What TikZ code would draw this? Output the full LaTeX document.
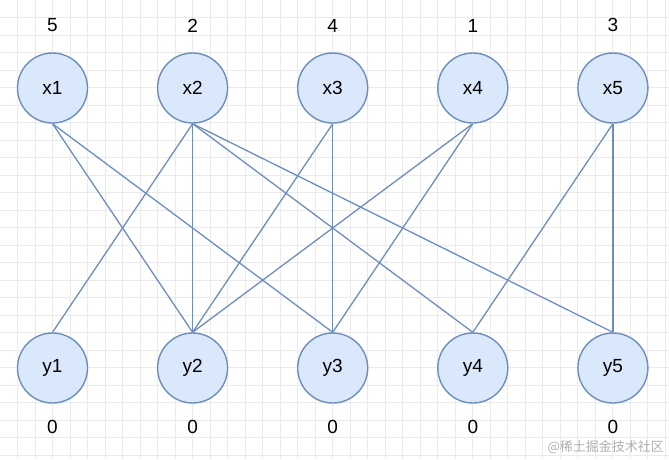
\documentclass[tikz,border=0pt]{standalone}
\usepackage{fontspec}
\setmainfont{Liberation Sans}
\newfontfamily\cjkfont{Noto Sans CJK SC}
\usetikzlibrary{positioning}
\definecolor{nodeblue}{RGB}{108,142,191}
\definecolor{nodefill}{RGB}{218,232,252}
\definecolor{gridgray}{RGB}{234,234,234}
\definecolor{markgray}{RGB}{175,175,175}

\begin{document}
\begin{tikzpicture}[x=1pt, y=-1pt, font=\fontsize{19}{22}\selectfont, node distance=68.7pt,
vertex/.style={circle, draw=nodeblue, fill=nodefill, line width=1.4pt, minimum size=70pt, inner sep=0pt},
edge/.style={nodeblue, line width=1.3pt},
num/.style={inner sep=0pt}]
\useasboundingbox (0,0) rectangle (669,459);
% background grid
\foreach \i in {1,...,38} \draw[gridgray, line width=0.7pt] (\i*17.5,0) -- (\i*17.5,459);
\foreach \j in {1,...,26} \draw[gridgray, line width=0.7pt] (0,\j*17.5) -- (669,\j*17.5);
% top row
\node[vertex] (x1) at (52.5,88) {x1};
\node[vertex, right=of x1] (x2) {x2};
\node[vertex, right=of x2] (x3) {x3};
\node[vertex, right=of x3] (x4) {x4};
\node[vertex, right=of x4] (x5) {x5};
% bottom row
\node[vertex] (y1) at (52.5,368) {y1};
\node[vertex, right=of y1] (y2) {y2};
\node[vertex, right=of y2] (y3) {y3};
\node[vertex, right=of y3] (y4) {y4};
\node[vertex, right=of y4] (y5) {y5};
% labels
\node[num, above=20pt of x1] (lx1) {5};
\node[num, above=20pt of x2] (lx2) {2};
\node[num, above=20pt of x3] (lx3) {4};
\node[num, above=20pt of x4] (lx4) {1};
\node[num, above=20pt of x5] (lx5) {3};
\node[num, below=16.5pt of y1] (ly1) {0};
\node[num, below=16.5pt of y2] (ly2) {0};
\node[num, below=16.5pt of y3] (ly3) {0};
\node[num, below=16.5pt of y4] (ly4) {0};
\node[num, below=16.5pt of y5] (ly5) {0};
% edges
\draw[edge] (x1.south)--(y2.north);
\draw[edge] (x1.south)--(y3.north);
\draw[edge] (x2.south)--(y1.north);
\draw[edge] (x2.south)--(y2.north);
\draw[edge] (x2.south)--(y4.north);
\draw[edge] (x2.south)--(y5.north);
\draw[edge] (x3.south)--(y2.north);
\draw[edge] (x3.south)--(y3.north);
\draw[edge] (x4.south)--(y2.north);
\draw[edge] (x4.south)--(y3.north);
\draw[edge] (x5.south)--(y4.north);
\draw[edge] (x5.south)--(y5.north);
\node[text=markgray, font=\cjkfont\fontsize{13}{15}\selectfont, anchor=east, inner sep=0pt] (mark) at (664,447.5) {@稀土掘金技术社区};
\end{tikzpicture}
\end{document}
